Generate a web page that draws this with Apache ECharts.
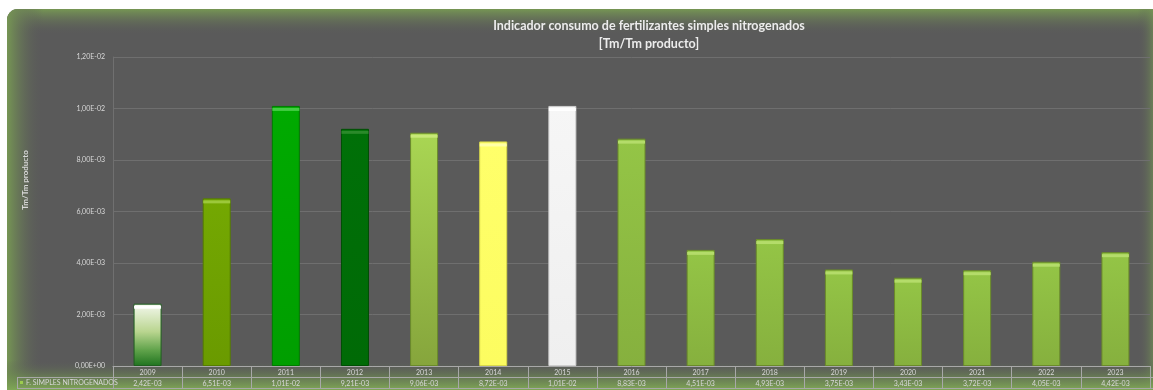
<!DOCTYPE html>
<html>
<head>
<meta charset="utf-8">
<script src="https://cdn.jsdelivr.net/npm/echarts@6/dist/echarts.min.js"></script>
<style>
  html, body { margin: 0; padding: 0; background: #ffffff; }
  #chart { width: 1153px; height: 390px; }
</style>
</head>
<body>
<div id="chart"></div>
<script>
// Consumption indicator per year (Tm of nitrogen fertiliser per Tm of product)
const years = ['2009', '2010', '2011', '2012', '2013', '2014', '2015', '2016',
               '2017', '2018', '2019', '2020', '2021', '2022', '2023'];
const values = [2.42e-3, 6.51e-3, 1.01e-2, 9.21e-3, 9.06e-3, 8.72e-3, 1.01e-2, 8.83e-3,
                4.51e-3, 4.93e-3, 3.75e-3, 3.43e-3, 3.72e-3, 4.05e-3, 4.42e-3];
const seriesName = 'F. SIMPLES NITROGENADOS';
const yTicks = [0, 2e-3, 4e-3, 6e-3, 8e-3, 1.0e-2, 1.2e-2];

// Fill per year: [top, bottom, border, cap]
const fills = [
  ['#f4f8ee', '#237a23', '#1f5f1f', '#ffffff'],
  ['#74a802', '#6a9a00', '#557c00', '#9cc83a'],
  ['#00aa00', '#009e00', '#007a00', '#44cc44'],
  ['#007008', '#006a06', '#004e04', '#2a8a2a'],
  ['#a9d653', '#86a53c', '#6a8a2a', '#c8e878'],
  ['#ffff6a', '#fcfc60', '#d8d84a', '#ffffa8'],
  ['#f6f6f6', '#efefef', '#cfcfcf', '#ffffff'],
  ['#94c546', '#86b03e', '#6a8a2a', '#b4dc6a'],
  ['#94c546', '#86b03e', '#6a8a2a', '#b4dc6a'],
  ['#94c546', '#86b03e', '#6a8a2a', '#b4dc6a'],
  ['#94c546', '#86b03e', '#6a8a2a', '#b4dc6a'],
  ['#94c546', '#86b03e', '#6a8a2a', '#b4dc6a'],
  ['#94c546', '#86b03e', '#6a8a2a', '#b4dc6a'],
  ['#94c546', '#86b03e', '#6a8a2a', '#b4dc6a'],
  ['#94c546', '#86b03e', '#6a8a2a', '#b4dc6a']
];

// Spanish-style scientific notation: 2,42E-03
function sci(v) {
  if (v === 0) return '0,00E+00';
  const [m, e] = v.toExponential(2).split('e');
  const n = parseInt(e, 10);
  const exp = (n < 0 ? '-' : '+') + String(Math.abs(n)).padStart(2, '0');
  return m.replace('.', ',') + 'E' + exp;
}

function vgrad(top, bottom) {
  return { type: 'linear', x: 0, y: 0, x2: 0, y2: 1,
           colorStops: [{ offset: 0, color: top }, { offset: 1, color: bottom }] };
}

const barData = values.map((v, i) => {
  const f = fills[i];
  let color = vgrad(f[0], f[1]);
  if (i === 0) {
    color = { type: 'linear', x: 0, y: 0, x2: 0, y2: 1, colorStops: [
      { offset: 0, color: '#f4f8ee' }, { offset: 0.45, color: '#b9d58f' },
      { offset: 0.75, color: '#5fa24a' }, { offset: 1, color: '#1f731f' }] };
  }
  return { value: v, itemStyle: { color: color, borderColor: f[2], borderWidth: 1 } };
});

const capData = values.map((v, i) => ({ value: v, itemStyle: { color: fills[i][3] } }));

const FONT = 'Lato';
const LABEL = '#d8d8d8';
const LINE = '#a8a8a8';

const chart = echarts.init(document.getElementById('chart'), null, { renderer: 'canvas' });

chart.setOption({
  backgroundColor: '#ffffff',
  animation: false,
  title: {
    text: 'Indicador consumo de fertilizantes simples nitrogenados\n[Tm/Tm producto]',
    left: 644, top: 12, textAlign: 'center',
    textStyle: { color: '#ececec', fontFamily: FONT, fontWeight: 'bold', fontSize: 12.5, lineHeight: 18 }
  },
  grid: { left: 113, right: 3, top: 57, bottom: 24, containLabel: false },
  graphic: [
    // panel
    { type: 'rect', z: -10, shape: { x: 7, y: 9, width: 1146, height: 381, r: [11, 0, 0, 0] },
      style: { fill: '#5a5a5a' } },
    // edge glow: top
    { type: 'rect', z: -9, shape: { x: 7, y: 9, width: 1146, height: 26, r: [11, 0, 0, 0] },
      style: { fill: { type: 'linear', x: 0, y: 0, x2: 0, y2: 1, colorStops: [
        { offset: 0, color: 'rgba(118,150,84,1)' }, { offset: 1, color: 'rgba(90,90,90,0)' }] } } },
    // left
    { type: 'rect', z: -9, shape: { x: 7, y: 9, width: 36, height: 381, r: [11, 0, 0, 0] },
      style: { fill: { type: 'linear', x: 0, y: 0, x2: 1, y2: 0, colorStops: [
        { offset: 0, color: 'rgba(118,150,84,1)' }, { offset: 1, color: 'rgba(90,90,90,0)' }] } } },
    // right
    { type: 'rect', z: -9, shape: { x: 1138, y: 9, width: 15, height: 381 },
      style: { fill: { type: 'linear', x: 1, y: 0, x2: 0, y2: 0, colorStops: [
        { offset: 0, color: 'rgba(118,150,84,0.6)' }, { offset: 1, color: 'rgba(90,90,90,0)' }] } } },
    // bottom
    { type: 'rect', z: -9, shape: { x: 7, y: 360, width: 1146, height: 30 },
      style: { fill: { type: 'linear', x: 0, y: 1, x2: 0, y2: 0, colorStops: [
        { offset: 0, color: 'rgba(128,168,86,1)' }, { offset: 0.45, color: 'rgba(110,140,80,0.6)' },
        { offset: 1, color: 'rgba(90,90,90,0)' }] } } },
    // data table rules
    { type: 'line', z: 10, shape: { x1: 17, y1: 377.5, x2: 1153, y2: 377.5 }, style: { stroke: LINE, lineWidth: 1 } },
    { type: 'line', z: 10, shape: { x1: 17, y1: 388.5, x2: 1153, y2: 388.5 }, style: { stroke: LINE, lineWidth: 1 } },
    { type: 'line', z: 10, shape: { x1: 17.5, y1: 377, x2: 17.5, y2: 389 }, style: { stroke: LINE, lineWidth: 1 } },
    // legend key + series name
    { type: 'rect', z: 10, shape: { x: 20, y: 381, width: 3, height: 3 }, style: { fill: '#9ccc4e' } },
    { type: 'text', z: 10, style: { x: 26, y: 383, text: seriesName, fill: LABEL,
      font: '7px ' + FONT, textVerticalAlign: 'middle' } },
    // y axis name
    { type: 'text', z: 10, x: 25, y: 180, rotation: Math.PI / 2,
      style: { x: 0, y: 0, text: 'Tm/Tm producto', fill: LABEL, font: 'bold 8px ' + FONT,
        textAlign: 'center', textVerticalAlign: 'middle' } }
  ],
  xAxis: [
    {
      type: 'category', data: years, position: 'bottom',
      axisLine: { show: true, lineStyle: { color: LINE, width: 1 } },
      axisTick: { show: true, interval: 0, length: 22, lineStyle: { color: LINE } },
      axisLabel: { color: LABEL, fontFamily: FONT, fontSize: 7, margin: 3, interval: 0 },
      splitLine: { show: false }
    },
    {
      type: 'category', data: years, position: 'bottom', offset: 11,
      axisLine: { show: false }, axisTick: { show: false },
      axisLabel: { color: LABEL, fontFamily: FONT, fontSize: 7, margin: 3, interval: 0,
        formatter: (v, i) => sci(values[i]) }
    }
  ],
  yAxis: {
    type: 'value', min: 0, max: 1.2e-2, interval: 2e-3,
    axisLine: { show: true, lineStyle: { color: '#707070' } },
    axisTick: { show: false },
    axisLabel: { color: LABEL, fontFamily: FONT, fontSize: 7, margin: 8,
      formatter: v => sci(yTicks.reduce((a, b) => Math.abs(b - v) < Math.abs(a - v) ? b : a)) },
    splitLine: { show: true, lineStyle: { color: '#6f6f6f', width: 1 } }
  },
  series: [
    {
      name: seriesName, type: 'bar', data: barData, barWidth: 28, xAxisIndex: 0, z: 2
    },
    {
      name: seriesName + ' cap', type: 'pictorialBar', data: capData, xAxisIndex: 0,
      symbol: 'rect', symbolSize: [27, 3], symbolPosition: 'end', symbolOffset: [0, 2], z: 3
    }
  ]
});
</script>
</body>
</html>
